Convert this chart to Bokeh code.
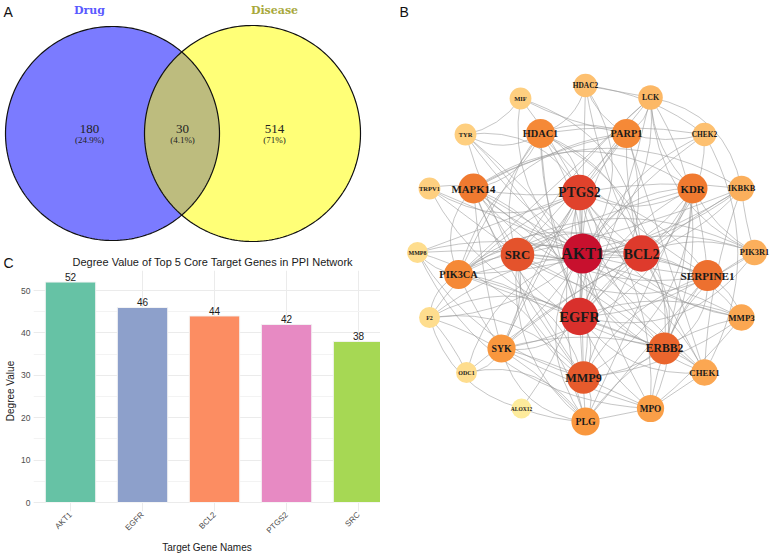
import numpy as np
from bokeh.plotting import figure
from bokeh.layouts import row, column
from bokeh.models import Range1d, FixedTicker, SingleIntervalTicker, ColumnDataSource
from bokeh.embed import file_html
from bokeh.resources import INLINE
from bokeh.core.properties import value

# ---------------- data ----------------
# Venn (panel A)
venn_sets = ["Drug", "Disease"]
venn_counts = [180, 30, 514]
venn_pcts = ["(24.9%)", "(4.1%)", "(71%)"]

# Bar chart (panel C)
bar_title = "Degree Value of Top 5 Core Target Genes in PPI Network"
genes = ["AKT1", "EGFR", "BCL2", "PTGS2", "SRC"]
gene_degree = [52, 46, 44, 42, 38]
bar_colors = ["#66C2A5", "#8DA0CB", "#FC8D62", "#E78AC3", "#A6D854"]

# PPI network (panel B)
node_names = ["AKT1", "EGFR", "BCL2", "PTGS2", "SRC", "MMP9", "ERBB2", "SERPINE1",
              "KDR", "MAPK14", "HDAC1", "PARP1", "PIK3CA", "SYK", "PLG", "MPO",
              "MMP3", "CHEK1", "IKBKB", "PIK3R1", "LCK", "CHEK2", "HDAC2", "TYR",
              "MIF", "TRPV1", "MMP8", "F2", "ODC1", "ALOX12"]
node_degree = [52, 46, 44, 42, 38, 36, 34, 32, 30, 30, 28, 28, 28, 26, 26, 24,
               22, 22, 20, 20, 18, 16, 16, 12, 12, 12, 10, 10, 10, 8]
# layout coordinates of the network drawing
node_x = [582, 579, 641, 579, 517, 583, 664, 707, 692, 473, 540, 626, 458, 501, 585, 650,
          741, 704, 741, 754, 650, 704, 585, 465, 520, 429, 417, 429, 466, 521]
node_y = [253, 316, 253, 192, 254, 377, 348, 275, 188, 188, 133, 133, 274, 348, 421, 408,
          317, 372, 188, 252, 97, 134, 85, 134, 98, 188, 252, 317, 372, 408]
edges_by_node = {
    "AKT1": "EGFR BCL2 PTGS2 SRC MMP9 ERBB2 SERPINE1 KDR MAPK14 HDAC1 PARP1 PIK3CA SYK PLG MPO MMP3 CHEK1 IKBKB PIK3R1 LCK CHEK2 HDAC2 TYR MIF TRPV1 MMP8 F2 ODC1",
    "EGFR": "BCL2 PTGS2 SRC MMP9 ERBB2 SERPINE1 KDR MAPK14 HDAC1 PARP1 PIK3CA SYK PLG MPO MMP3 CHEK1 IKBKB PIK3R1 LCK CHEK2 HDAC2 TYR TRPV1 F2",
    "BCL2": "PTGS2 SRC MMP9 ERBB2 SERPINE1 KDR MAPK14 HDAC1 PARP1 PIK3CA SYK MPO CHEK1 IKBKB PIK3R1 CHEK2 HDAC2 MIF ODC1",
    "PTGS2": "SRC MMP9 ERBB2 SERPINE1 KDR MAPK14 HDAC1 PARP1 PIK3CA SYK PLG MPO MMP3 IKBKB TYR MIF TRPV1 MMP8 F2 ALOX12",
    "SRC": "MMP9 ERBB2 KDR MAPK14 HDAC1 PARP1 PIK3CA SYK PLG LCK PIK3R1 IKBKB CHEK1 TRPV1",
    "MMP9": "ERBB2 SERPINE1 KDR MAPK14 PIK3CA SYK PLG MPO MMP3 MMP8 F2 TYR",
    "ERBB2": "SERPINE1 KDR MAPK14 PIK3CA SYK PIK3R1 LCK CHEK1 HDAC1",
    "SERPINE1": "KDR MAPK14 PLG MPO MMP3 F2 HDAC1",
    "KDR": "MAPK14 PIK3CA SYK PLG PIK3R1 LCK",
    "MAPK14": "HDAC1 PARP1 PIK3CA SYK IKBKB CHEK1 TRPV1",
    "HDAC1": "PARP1 HDAC2 CHEK2 CHEK1 PIK3CA TYR",
    "PARP1": "CHEK1 CHEK2 HDAC2 LCK MIF PIK3CA",
    "PIK3CA": "SYK PIK3R1 LCK IKBKB MMP8 F2",
    "SYK": "LCK PLG MPO ODC1",
    "PLG": "MPO F2 MMP3 MMP8 ALOX12 ODC1",
    "MPO": "MMP3 MMP8 CHEK1",
    "MMP3": "MMP8 TYR",
    "CHEK1": "CHEK2 IKBKB",
    "IKBKB": "LCK PIK3R1",
    "PIK3R1": "LCK",
    "LCK": "HDAC2",
    "CHEK2": "HDAC2",
    "MIF": "TYR",
    "F2": "ALOX12 ODC1",
}

FONT_SANS = "Liberation Sans"
FONT_SERIF = "Liberation Serif"

def base_fig(**kw):
    p = figure(toolbar_location=None, output_backend="svg", **kw)
    p.outline_line_color = None
    p.background_fill_color = "white"
    p.border_fill_color = "white"
    p.frame_align = False
    return p

# ---------------- panel A : Venn (also carries the heading row of panel C) ----------------
pa = base_fig(width=380, height=270, x_range=Range1d(0, 380), y_range=Range1d(270, 0),
              x_axis_location=None, y_axis_location=None, min_border=0,
              min_border_left=0, min_border_right=0, min_border_top=0, min_border_bottom=0)
pa.grid.visible = False
c1x, c1y, r1 = 112.0, 133.0, 107.0
c2x, c2y, r2 = 252.0, 133.0, 108.0
th = np.linspace(0, 2 * np.pi, 240)
pa.patch(c1x + r1 * np.cos(th), c1y + r1 * np.sin(th), fill_color="#7B7BFF", line_color=None)
pa.patch(c2x + r2 * np.cos(th), c2y + r2 * np.sin(th), fill_color="#FFFF77", line_color=None)
d = c2x - c1x
a = (d * d + r1 * r1 - r2 * r2) / (2 * d)
h = np.sqrt(r1 * r1 - a * a)
t1 = np.arctan2(h, a)
t2 = np.arctan2(h, d - a)
ang1 = np.linspace(-t1, t1, 80)
ang2 = np.linspace(np.pi - t2, np.pi + t2, 80)
lx = np.concatenate([c1x + r1 * np.cos(ang1), c2x + r2 * np.cos(ang2)])
ly = np.concatenate([c1y + r1 * np.sin(ang1), c2y + r2 * np.sin(ang2)])
pa.patch(lx, ly, fill_color="#BDBC7E", line_color=None)
pa.patches([list(c1x + r1 * np.cos(th)), list(c2x + r2 * np.cos(th))],
           [list(c1y + r1 * np.sin(th)), list(c2y + r2 * np.sin(th))],
           fill_color=None, line_color="#111111", line_width=1.2)
pa.text(x=[89, 274], y=[10, 10], text=venn_sets, text_color=["#5A5AFF", "#A8A83C"],
        text_font=value("DejaVu Serif"), text_font_style="bold", text_font_size="11px",
        text_align="center", text_baseline="middle")
pa.text(x=[89, 182, 274], y=[128, 128, 128], text=[str(v) for v in venn_counts],
        text_font=value(FONT_SERIF), text_font_size="13px", text_color="#222222",
        text_align="center", text_baseline="middle")
pa.text(x=[89, 182, 274], y=[139, 139, 139], text=venn_pcts,
        text_font=value(FONT_SERIF), text_font_size="9px", text_color="#222222",
        text_align="center", text_baseline="middle")
pa.text(x=[3, 3], y=[11, 262], text=["A", "C"], text_font=value(FONT_SANS), text_font_size="14px",
        text_color="#111111", text_align="left", text_baseline="middle")
# heading of the bar chart (sits in the same row as the "C" tag)
pa.text(x=[72], y=[261], text=[bar_title], text_font=value(FONT_SANS), text_font_size="11px",
        text_color="#1A1A1A", text_align="left", text_baseline="middle")

# ---------------- panel B : PPI network ----------------
pb = base_fig(width=391, height=556, x_range=Range1d(380, 771), y_range=Range1d(556, 0),
              x_axis_location=None, y_axis_location=None, min_border=0,
              min_border_left=0, min_border_right=0, min_border_top=0, min_border_bottom=0)
pb.grid.visible = False
idx = {n: i for i, n in enumerate(node_names)}
pairs = []
for src, targets in edges_by_node.items():
    for t in targets.split():
        pairs.append((idx[src], idx[t]))
bends = [0.0, 0.14, -0.2, 0.28, -0.08, 0.34, 0.05, -0.3]
x0 = []; y0 = []; x1 = []; y1 = []; cx = []; cy = []
for k, (i, j) in enumerate(pairs):
    ax_, ay_ = node_x[i], node_y[i]
    bx_, by_ = node_x[j], node_y[j]
    mx, my = (ax_ + bx_) / 2, (ay_ + by_) / 2
    dx, dy = bx_ - ax_, by_ - ay_
    b = bends[k % len(bends)]
    x0.append(ax_); y0.append(ay_); x1.append(bx_); y1.append(by_)
    cx.append(mx - dy * b); cy.append(my + dx * b)
pb.quadratic(x0=x0, y0=y0, x1=x1, y1=y1, cx=cx, cy=cy, line_color="#9A9A9A",
             line_alpha=0.75, line_width=0.75)

anchor_t = [0.0, 0.09, 0.18, 0.41, 0.5, 0.64, 0.82, 1.0]
anchor_c = ["#FDEB9C", "#FECF80", "#FDC070", "#F9973E", "#F07A30", "#E65A2C", "#DE3A2C", "#C8102E"]
def hex2rgb(hx):
    return [int(hx[i:i + 2], 16) for i in (1, 3, 5)]
anchor_rgb = np.array([hex2rgb(c) for c in anchor_c], dtype=float)
dmin, dmax = min(node_degree), max(node_degree)
cols = []; sizes = []; fsz = []
for dg in node_degree:
    t = (dg - dmin) / (dmax - dmin)
    rgb = [np.interp(t, anchor_t, anchor_rgb[:, ch]) for ch in range(3)]
    cols.append("#%02X%02X%02X" % tuple(int(round(v)) for v in rgb))
    sizes.append(2 * (10 + t * 10))
    fsz.append("%.1fpx" % (5.5 + t * 10.5))
nsrc = ColumnDataSource(dict(x=node_x, y=node_y, name=node_names, c=cols, s=sizes, fs=fsz))
pb.scatter(x="x", y="y", size="s", fill_color="c", line_color=None, source=nsrc)
pb.text(x="x", y="y", text="name", text_font_size="fs", source=nsrc,
        text_font=value(FONT_SERIF), text_font_style="bold", text_color="#1A1A1A",
        text_align="center", text_baseline="middle")
pb.text(x=[399], y=[11], text=["B"], text_font=value(FONT_SANS), text_font_size="14px",
        text_color="#111111", text_align="left", text_baseline="middle")

# ---------------- panel C : bar chart ----------------
pos = list(range(1, len(genes) + 1))
pc = base_fig(width=380, height=286, x_range=Range1d(0.486, 5.305), y_range=Range1d(-2.12, 54.72),
              min_border_left=33, min_border_right=0, min_border_top=0, min_border_bottom=45)
pc.vbar(x=pos, top=gene_degree, width=0.7, fill_color=bar_colors, line_color="#F4F4F4", line_width=1)
pc.text(x=pos, y=gene_degree, text=[str(v) for v in gene_degree], text_font=value(FONT_SANS),
        text_font_size="10px", text_color="#1A1A1A", text_align="center",
        text_baseline="bottom", y_offset=-1)
pc.yaxis.ticker = SingleIntervalTicker(interval=10, num_minor_ticks=2)
pc.xaxis.ticker = FixedTicker(ticks=pos)
pc.xaxis.major_label_overrides = {p_: g for p_, g in zip(pos, genes)}
pc.xaxis.major_label_orientation = np.pi / 4
pc.ygrid.grid_line_color = "#EBEBEB"
pc.ygrid.minor_grid_line_color = "#F3F3F3"
pc.xgrid.grid_line_color = "#EBEBEB"
pc.xgrid.ticker = FixedTicker(ticks=pos)
for ax in (pc.xaxis, pc.yaxis):
    ax.axis_line_color = None
    ax.major_tick_line_color = None
    ax.minor_tick_line_color = None
    ax.major_tick_out = 0
    ax.major_tick_in = 0
    ax.minor_tick_out = 0
    ax.minor_tick_in = 0
    ax.major_label_text_font = FONT_SANS
    ax.major_label_text_color = "#4D4D4D"
    ax.axis_label_text_font = FONT_SANS
    ax.axis_label_text_font_size = "10px"
    ax.axis_label_text_font_style = "normal"
    ax.axis_label_text_color = "#1A1A1A"
pc.xaxis.major_label_text_font_size = "8px"
pc.yaxis.major_label_text_font_size = "8.5px"
pc.xaxis.major_label_standoff = 2
pc.xaxis.axis_label_standoff = 1
pc.yaxis.major_label_standoff = 3
pc.yaxis.axis_label_standoff = 2
pc.xaxis.axis_label = "Target Gene Names"
pc.yaxis.axis_label = "Degree Value"

layout = row(column(pa, pc), pb)
open("out.html", "w").write(file_html(layout, INLINE))
